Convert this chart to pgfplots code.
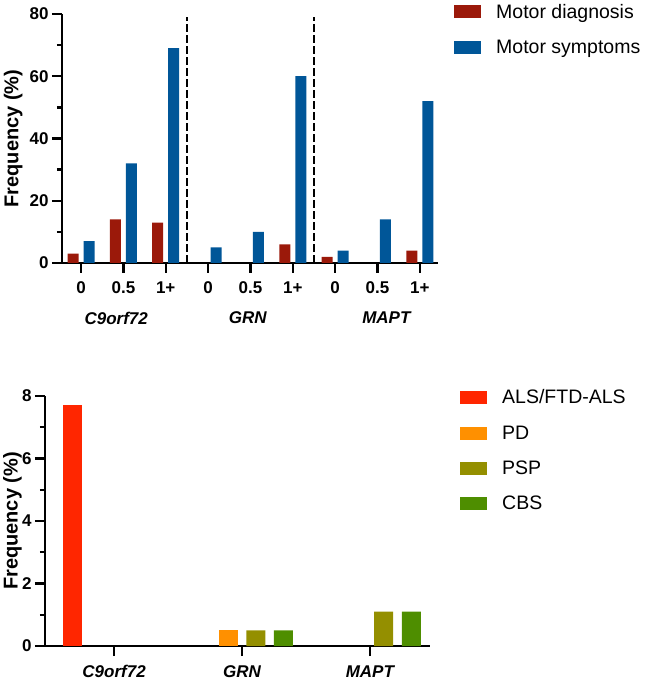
\documentclass[border=0pt]{standalone}
\usepackage{pgfplots}
\pgfplotsset{compat=1.18}
\usepackage{fontspec}
\setmainfont{Liberation Sans}
\definecolor{mdiag}{RGB}{155,25,10}
\definecolor{msym}{RGB}{0,86,152}
\definecolor{als}{RGB}{255,38,0}
\definecolor{pd}{RGB}{255,144,0}
\definecolor{psp}{RGB}{148,143,0}
\definecolor{cbs}{RGB}{78,142,0}
\pgfplotsset{
  mystyle/.style={
    scale only axis,
    anchor=south west,
    axis lines=left,
    axis line style={line width=2.3pt,-},
    tick align=outside,
    major tick length=10pt,
    minor tick length=5pt,
    every tick/.style={black,line width=2.3pt},
    tick label style={font=\fontsize{17pt}{20pt}\selectfont\bfseries},
    /pgf/number format/assume math mode=true,
    ylabel={Frequency (\%)},
    ylabel style={font=\fontsize{20pt}{24pt}\selectfont\bfseries},
    ybar,
    clip=false,
    legend style={draw=none,fill=none,inner sep=0pt,row sep=16.3pt,
      font=\fontsize{19.5pt}{23pt}\selectfont,
      cells={anchor=west},
      /tikz/every odd column/.append style={column sep=13pt}},
    legend image code/.code={\fill[##1] (0pt,-6.5pt) rectangle (27pt,6.5pt);},
    legend cell align=left,
  }
}
\begin{document}
\begin{tikzpicture}
\useasboundingbox (0,0) rectangle (646pt,683pt);
% top chart
\begin{axis}[mystyle,
  at={(62pt,420pt)},
  width=376pt, height=249pt,
  xmin=-0.45, xmax=8.43, ymin=0, ymax=80,
  ytick={0,20,40,60,80}, minor y tick num=1,
  xtick={0,1,2,3,4,5,6,7,8},
  xticklabels={0,0.5,1+,0,0.5,1+,0,0.5,1+},
  xticklabel style={yshift=-5pt},
  bar width=11pt,
  ylabel style={at={(axis description cs:-0.130,0.5)},anchor=center},
  legend style={at={(392pt,233.5pt)},anchor=west},
]
\addplot[fill=mdiag,draw=none,bar shift=-8pt] coordinates {(0,3)(1,14)(2,13)(5,6)(6,2)(8,4)};
\addlegendentry{Motor diagnosis}
\addplot[fill=msym,draw=none,bar shift=8pt] coordinates {(0,7)(1,32)(2,69)(3,5)(4,10)(5,60)(6,4)(7,14)(8,52)};
\addlegendentry{Motor symptoms}
\addplot[sharp plot,black,line width=2.7pt,dash pattern=on 7.5pt off 3.5pt,forget plot] coordinates {(2.5,0)(2.5,79)};
\addplot[sharp plot,black,line width=2.7pt,dash pattern=on 7.5pt off 3.5pt,forget plot] coordinates {(5.5,0)(5.5,79)};
\node[font=\fontsize{17pt}{20pt}\selectfont\bfseries\itshape] at (axis cs:0.83,0) [yshift=-55pt] {C9orf72};
\node[font=\fontsize{17pt}{20pt}\selectfont\bfseries\itshape] at (axis cs:3.94,0) [yshift=-55pt] {GRN};
\node[font=\fontsize{17pt}{20pt}\selectfont\bfseries\itshape] at (axis cs:7.21,0) [yshift=-55pt] {MAPT};
\end{axis}
% bottom chart
\begin{axis}[mystyle,
  at={(45pt,37pt)},
  width=385pt, height=250pt,
  xmin=-0.54, xmax=2.47, ymin=0, ymax=8,
  ytick={0,2,4,6,8}, minor y tick num=1,
  xtick={0,1,2},
  xticklabels={C9orf72,GRN,MAPT},
  xticklabel style={font=\fontsize{17pt}{20pt}\selectfont\bfseries\itshape,yshift=-6pt},
  bar width=19pt,
  ylabel style={at={(axis description cs:-0.0844,0.5)},anchor=center},
  legend style={at={(415pt,195.5pt)},anchor=west},
]
\addplot[fill=als,draw=none,bar shift=-41.5pt] coordinates {(0,7.7)};
\addlegendentry{ALS/FTD-ALS}
\addplot[fill=pd,draw=none,bar shift=-13.8pt] coordinates {(1,0.5)};
\addlegendentry{PD}
\addplot[fill=psp,draw=none,bar shift=13.8pt] coordinates {(1,0.5)(2,1.1)};
\addlegendentry{PSP}
\addplot[fill=cbs,draw=none,bar shift=41.5pt] coordinates {(1,0.5)(2,1.1)};
\addlegendentry{CBS}
\end{axis}
\end{tikzpicture}
\end{document}
